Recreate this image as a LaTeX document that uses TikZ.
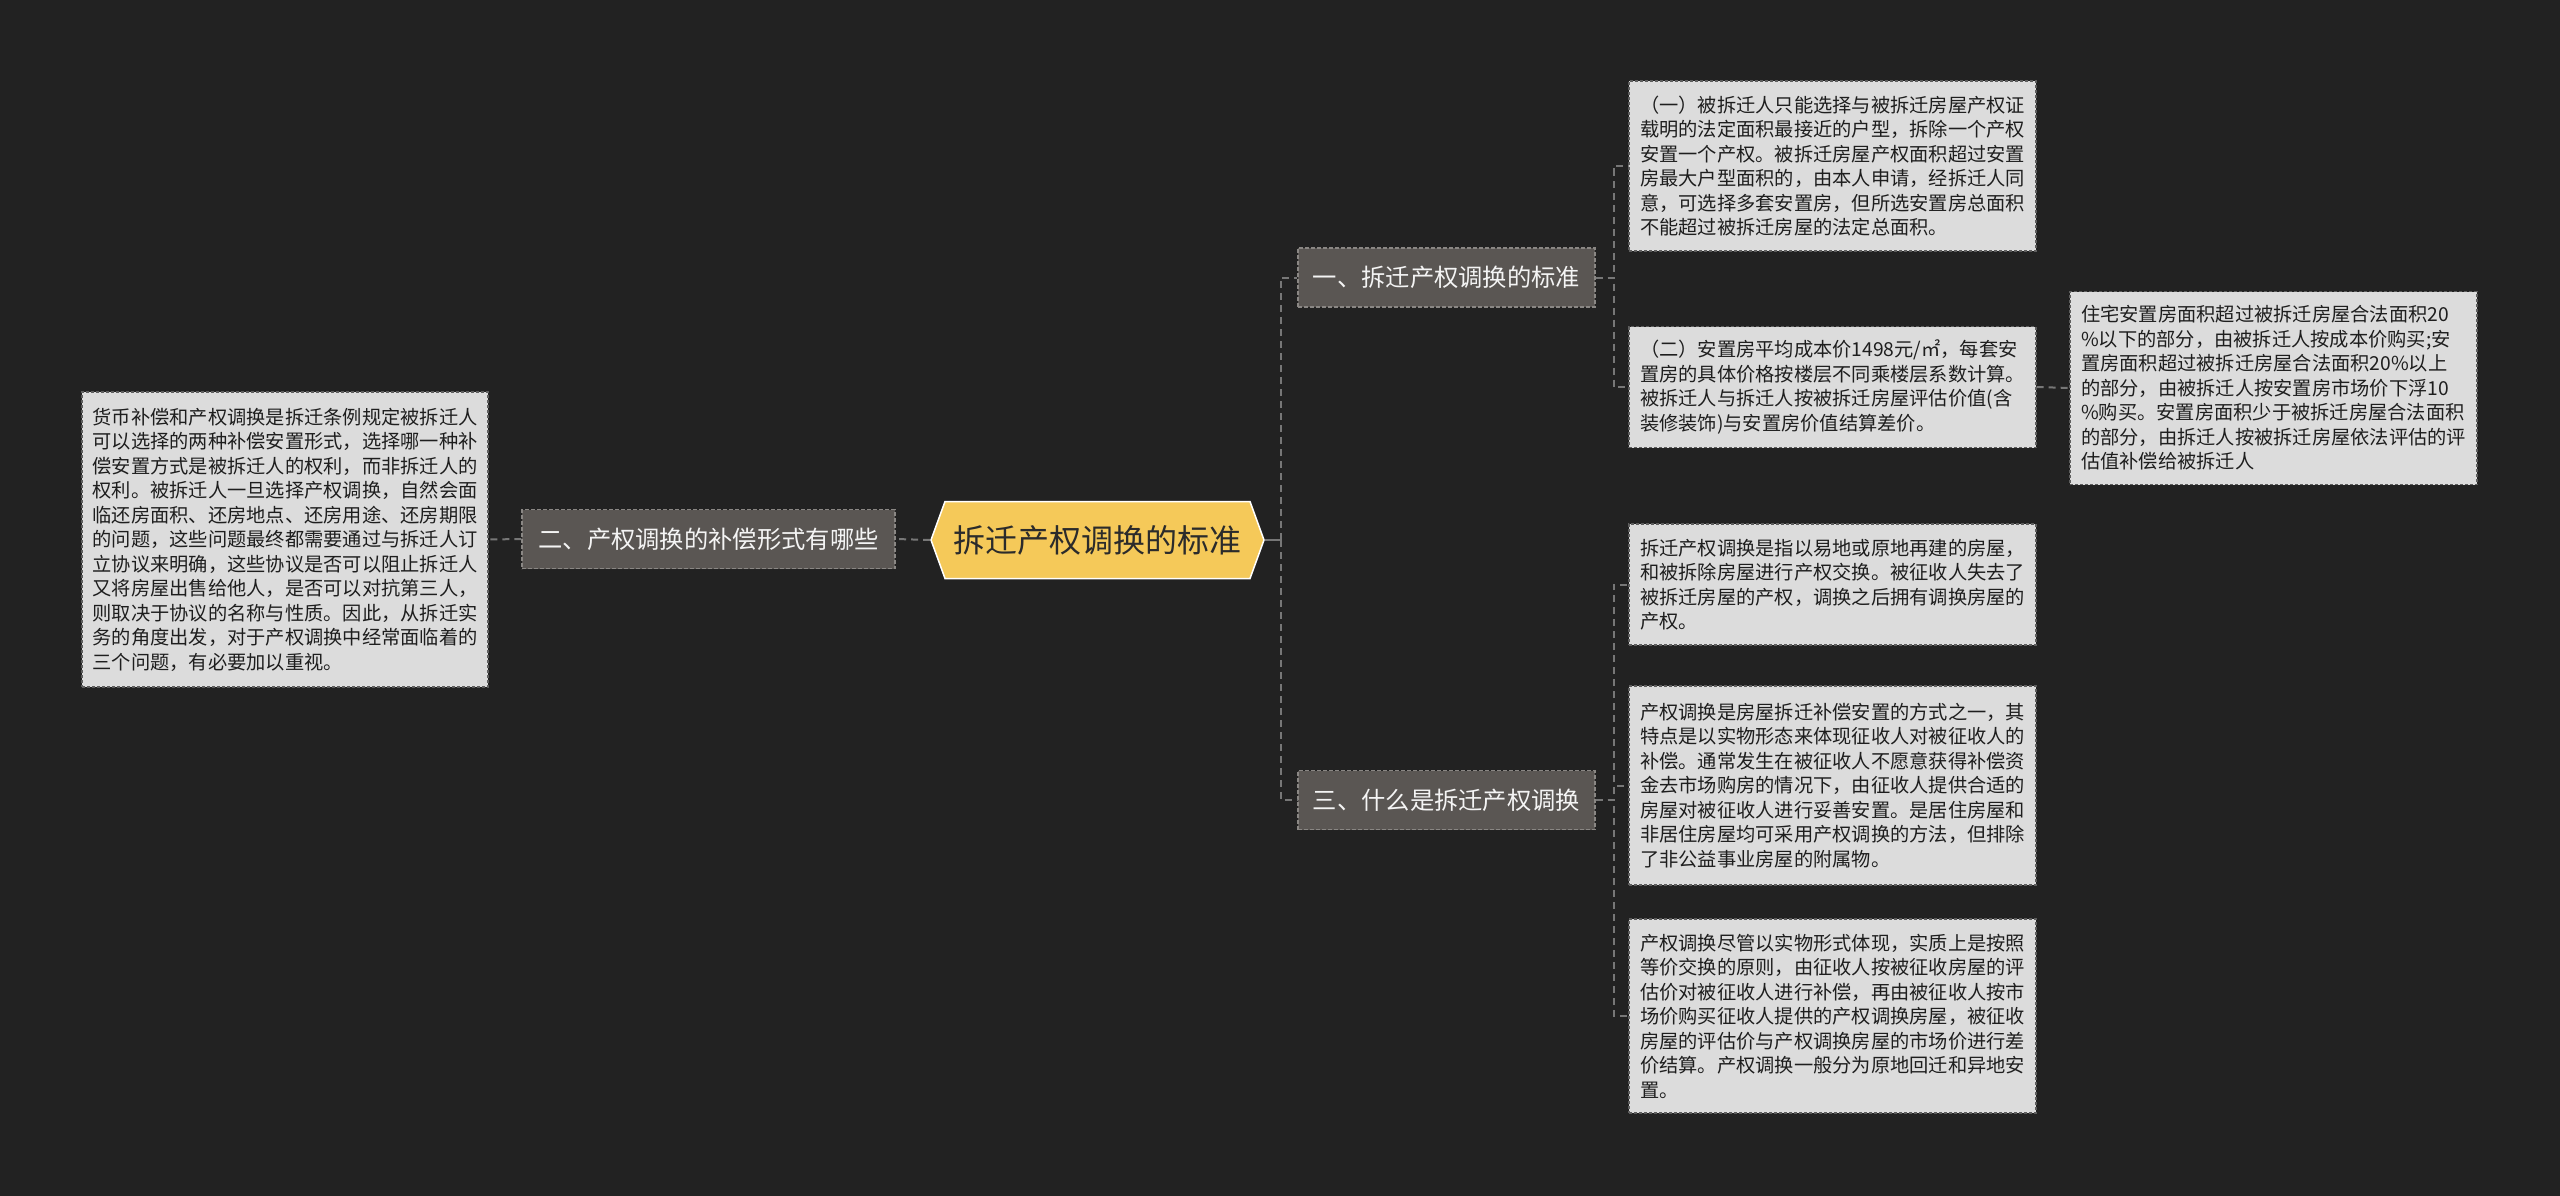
\documentclass[tikz,border=0pt]{standalone}
\usepackage{fontspec}
\setmainfont{Noto Sans CJK SC}
\usetikzlibrary{shapes.symbols}
\definecolor{bgcol}{HTML}{222222}
\definecolor{rootfill}{HTML}{F5C959}
\definecolor{rootline}{HTML}{FFFFFF}
\definecolor{roottext}{HTML}{2B2B2B}
\definecolor{midfill}{HTML}{5A5653}
\definecolor{midline}{HTML}{8A8784}
\definecolor{midtext}{HTML}{F4F4F4}
\definecolor{leaffill}{HTML}{DCDCDC}
\definecolor{leafline}{HTML}{5E5E5E}
\definecolor{leaftext}{HTML}{1E1E1E}
\definecolor{conncol}{HTML}{777777}
\begin{document}
\begin{tikzpicture}[x=1pt,y=-1pt,
  rootnode/.style={signal, signal to=east and west, signal pointer angle=140,
    fill=rootfill, draw=rootline, line width=1.5pt, minimum width=333pt, minimum height=77pt,
    inner sep=0pt, text=roottext, font=\fontsize{32}{38}\selectfont},
  midnode/.style={rectangle, fill=midfill, draw=midline, line width=1.2pt, dash pattern=on 4pt off 2pt,
    minimum height=59pt, inner sep=0pt, text=midtext, font=\fontsize{24.3}{28}\selectfont},
  leafnode/.style={rectangle, fill=leaffill, draw=leafline, line width=1.2pt, dash pattern=on 3pt off 2pt,
    minimum width=407pt, inner sep=0pt, align=left, text=leaftext, font=\fontsize{19.25}{24.5}\selectfont},
  conn/.style={draw=conncol, line width=2pt, dash pattern=on 7pt off 5pt},
  solidconn/.style={draw=conncol, line width=2.5pt}]
\useasboundingbox[fill=bgcol] (0,0) rectangle (2560,1196);

% root
\node[rootnode] (root) at (1097.5,540) {拆迁产权调换的标准};

% level one
\node[midnode, minimum width=373pt] (n2) at (708.5,539) {二、产权调换的补偿形式有哪些};
\node[midnode, minimum width=297pt] (n1) at (1446.5,277.5) {一、拆迁产权调换的标准};
\node[midnode, minimum width=297pt] (n3) at (1446.5,800) {三、什么是拆迁产权调换};

% leaves
\node[leafnode, minimum width=406pt, minimum height=295pt] (l0) at (285,539.5) {货币补偿和产权调换是拆迁条例规定被拆迁人\\
可以选择的两种补偿安置形式，选择哪一种补\\
偿安置方式是被拆迁人的权利，而非拆迁人的\\
权利。被拆迁人一旦选择产权调换，自然会面\\
临还房面积、还房地点、还房用途、还房期限\\
的问题，这些问题最终都需要通过与拆迁人订\\
立协议来明确，这些协议是否可以阻止拆迁人\\
又将房屋出售给他人，是否可以对抗第三人，\\
则取决于协议的名称与性质。因此，从拆迁实\\
务的角度出发，对于产权调换中经常面临着的\\
三个问题，有必要加以重视。};

\node[leafnode, minimum height=170pt] (b1) at (1832.5,166) {（一）被拆迁人只能选择与被拆迁房屋产权证\\
载明的法定面积最接近的户型，拆除一个产权\\
安置一个产权。被拆迁房屋产权面积超过安置\\
房最大户型面积的，由本人申请，经拆迁人同\\
意，可选择多套安置房，但所选安置房总面积\\
不能超过被拆迁房屋的法定总面积。};

\node[leafnode, minimum height=121pt] (b2) at (1832.5,387) {（二）安置房平均成本价1498元/㎡，每套安\\
置房的具体价格按楼层不同乘楼层系数计算。\\
被拆迁人与拆迁人按被拆迁房屋评估价值(含\\
装修装饰)与安置房价值结算差价。};

\node[leafnode, minimum height=193pt] (b3) at (2273.5,388) {住宅安置房面积超过被拆迁房屋合法面积20\\
\%以下的部分，由被拆迁人按成本价购买;安\\
置房面积超过被拆迁房屋合法面积20\%以上\\
的部分，由被拆迁人按安置房市场价下浮10\\
\%购买。安置房面积少于被拆迁房屋合法面积\\
的部分，由拆迁人按被拆迁房屋依法评估的评\\
估值补偿给被拆迁人};

\node[leafnode, minimum height=121pt] (b4) at (1832.5,584.5) {拆迁产权调换是指以易地或原地再建的房屋，\\
和被拆除房屋进行产权交换。被征收人失去了\\
被拆迁房屋的产权，调换之后拥有调换房屋的\\
产权。};

\node[leafnode, minimum height=199pt] (b5) at (1832.5,785.5) {产权调换是房屋拆迁补偿安置的方式之一，其\\
特点是以实物形态来体现征收人对被征收人的\\
补偿。通常发生在被征收人不愿意获得补偿资\\
金去市场购房的情况下，由征收人提供合适的\\
房屋对被征收人进行妥善安置。是居住房屋和\\
非居住房屋均可采用产权调换的方法，但排除\\
了非公益事业房屋的附属物。};

\node[leafnode, minimum height=194pt] (b6) at (1832.5,1016) {产权调换尽管以实物形式体现，实质上是按照\\
等价交换的原则，由征收人按被征收房屋的评\\
估价对被征收人进行补偿，再由被征收人按市\\
场价购买征收人提供的产权调换房屋，被征收\\
房屋的评估价与产权调换房屋的市场价进行差\\
价结算。产权调换一般分为原地回迁和异地安\\
置。};

% connectors
\draw[conn] (root.west) -- (n2.east);
\draw[conn] (n2.west) -- (l0.east);
\draw[solidconn] (root.east) -- ++(16,0) coordinate (rbus);
\draw[conn] (rbus) |- (n1.west);
\draw[conn] (rbus) |- (n3.west);
\draw[conn] (n1.east) -- ++(18,0) |- (b1.west);
\draw[conn] (n1.east) -- ++(18,0) |- (b2.west);
\draw[conn] (b2.east) -- (b3.west);
\draw[conn] (n3.east) -- ++(18,0) |- (b4.west);
\draw[conn] (n3.east) -- ++(18,0) |- (b5.west);
\draw[conn] (n3.east) -- ++(18,0) |- (b6.west);
\end{tikzpicture}
\end{document}
